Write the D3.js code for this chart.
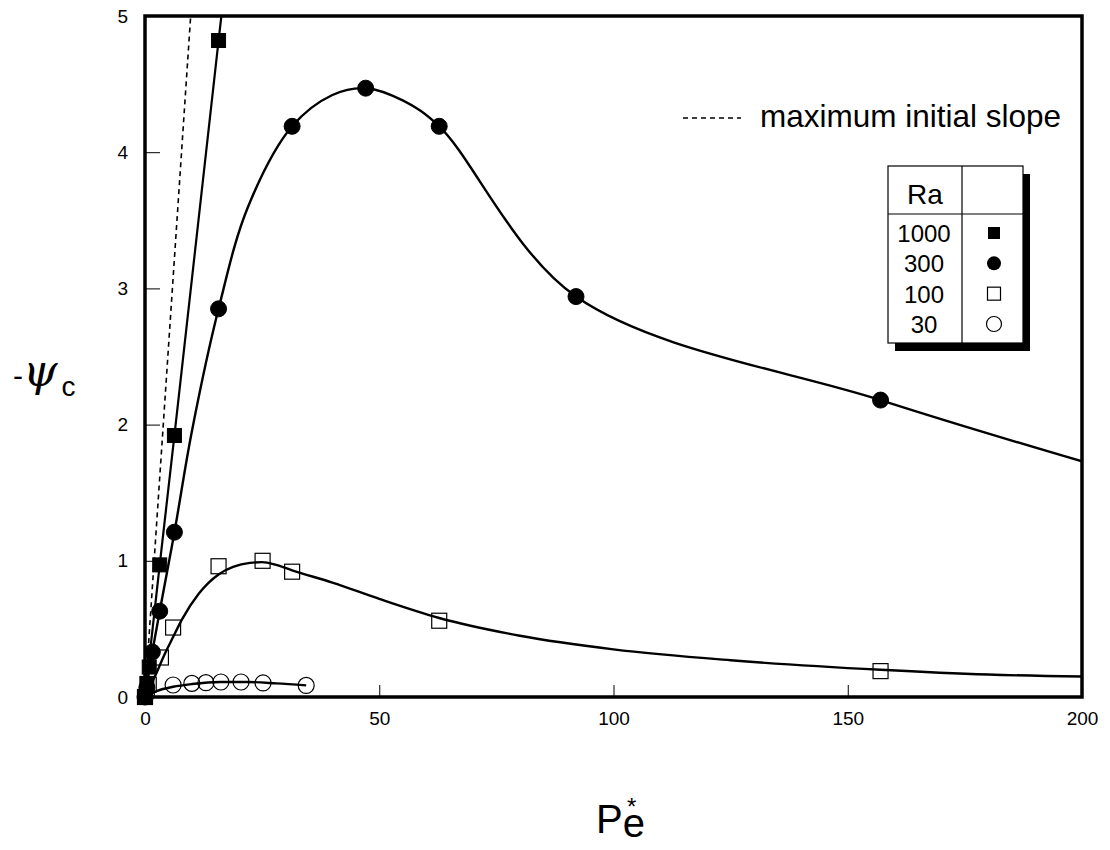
<!DOCTYPE html>
<html>
<head>
<meta charset="utf-8">
<script src="https://cdn.jsdelivr.net/npm/d3@7"></script>
<style>
  body { margin: 0; background: #fff; }
  svg { font-family: "Liberation Sans", Arial, sans-serif; }
</style>
</head>
<body>
<svg></svg>
<script>
const pe1000 = [0, 0.4, 0.9, 3.14, 6.28, 15.7];
const psi1000 = [0, 0.1, 0.22, 0.97, 1.92, 4.82];
const pe300 = [0, 0.4, 1.57, 3.14, 6.28, 15.7, 31.4, 47.1, 62.8, 92, 157];
const psi300 = [0, 0.07, 0.33, 0.63, 1.21, 2.85, 4.19, 4.47, 4.19, 2.94, 2.18];
const pe100 = [0, 0.8, 3.4, 6.0, 15.7, 25.1, 31.4, 62.8, 157];
const psi100 = [0, 0.09, 0.29, 0.51, 0.96, 1.0, 0.92, 0.56, 0.19];
const pe30 = [0.3, 6.0, 10.0, 13.0, 16.2, 20.5, 25.2, 34.4];
const psi30 = [0.02, 0.088, 0.1, 0.105, 0.11, 0.11, 0.103, 0.085];

// fitted curves
const curve1000 = [[0, 0], [3.14, 0.97], [6.28, 1.92], [15.7, 4.82], [16.3, 5.0]];
const curve300 = [[0, 0], [1.57, 0.33], [3.14, 0.63], [6.28, 1.21], [10, 1.95], [15.7, 2.85],
  [22, 3.6], [31.4, 4.19], [40, 4.42], [47.1, 4.47], [55, 4.38], [62.8, 4.19],
  [92, 2.94], [157, 2.18], [200, 1.73]];
const curve100 = [[0, 0], [0.8, 0.06], [2.1, 0.15], [4, 0.3], [6, 0.44], [7.9, 0.57],
  [11.5, 0.76], [15.7, 0.9], [18.8, 0.955], [22.4, 0.985], [25, 0.99], [28, 0.97],
  [31.4, 0.93], [40, 0.84], [50, 0.72], [62.8, 0.58], [80, 0.45], [100, 0.35],
  [125, 0.27], [157, 0.2], [180, 0.165], [200, 0.15]];
const curve30 = [[0, 0], [2.6, 0.045], [6, 0.075], [10, 0.095], [16, 0.11], [22, 0.11],
  [28, 0.1], [34.4, 0.085]];
const slopeLine = [[0, 0], [9.75, 5]];

const legendRa = ["1000", "300", "100", "30"];
const xTicks = [0, 50, 100, 150, 200];
const yTicks = [0, 1, 2, 3, 4, 5];

const width = 1110, height = 850;
const margin = {left: 145, right: 28, top: 16, bottom: 153};

const svg = d3.select("svg")
    .attr("width", width)
    .attr("height", height);

const x = d3.scaleLinear().domain([0, 200]).range([margin.left, width - margin.right]);
const y = d3.scaleLinear().domain([0, 5]).range([height - margin.bottom, margin.top]);

svg.append("defs").append("clipPath").attr("id", "plot")
  .append("rect")
    .attr("x", x(0)).attr("y", y(5))
    .attr("width", x(200) - x(0)).attr("height", y(0) - y(5));

// axes with inward ticks
const gx = svg.append("g").attr("transform", `translate(0,${y(0)})`);
gx.call(d3.axisBottom(x).tickValues(d3.range(0, 201, 25)).tickSize(-6).tickFormat(""));
gx.call(d3.axisBottom(x).tickValues(xTicks).tickSize(-12).tickPadding(15).tickFormat(d3.format("d")));

const gy = svg.append("g").attr("transform", `translate(${x(0)},0)`);
gy.call(d3.axisLeft(y).tickValues(d3.range(0, 5.01, 0.5)).tickSize(-7).tickFormat(""));
gy.call(d3.axisLeft(y).tickValues(yTicks).tickSize(-15).tickPadding(17).tickFormat(d3.format("d")));

svg.selectAll(".domain").remove();
svg.selectAll(".tick line").attr("stroke", "#000").attr("stroke-width", 1);
svg.selectAll(".tick text").attr("font-size", 19).attr("fill", "#000")
    .attr("font-family", "Liberation Sans, Arial, sans-serif");

// frame
svg.append("rect")
    .attr("x", x(0)).attr("y", y(5))
    .attr("width", x(200) - x(0)).attr("height", y(0) - y(5))
    .attr("fill", "none").attr("stroke", "#000").attr("stroke-width", 3.5);

const plot = svg.append("g").attr("clip-path", "url(#plot)");

const smooth = d3.line().x(d => x(d[0])).y(d => y(d[1])).curve(d3.curveMonotoneX);
const spline = d3.line().x(d => x(d[0])).y(d => y(d[1])).curve(d3.curveCatmullRom.alpha(0.5));
const straight = d3.line().x(d => x(d[0])).y(d => y(d[1]));

plot.append("path").attr("d", straight(slopeLine))
    .attr("fill", "none").attr("stroke", "#000").attr("stroke-width", 1.6)
    .attr("stroke-dasharray", "5,4");
plot.append("path").attr("d", straight(curve1000))
    .attr("fill", "none").attr("stroke", "#000").attr("stroke-width", 2.2);
plot.append("path").attr("d", spline(curve300))
    .attr("fill", "none").attr("stroke", "#000").attr("stroke-width", 2.4);
[curve100, curve30].forEach(c => {
  plot.append("path").attr("d", smooth(c))
      .attr("fill", "none").attr("stroke", "#000").attr("stroke-width", 2.4);
});

// markers
function squares(xs, ys, filled, s) {
  svg.append("g").selectAll("rect").data(xs).join("rect")
      .attr("x", d => x(d) - s / 2).attr("y", (d, i) => y(ys[i]) - s / 2)
      .attr("width", s).attr("height", s)
      .attr("fill", filled ? "#000" : "none")
      .attr("stroke", "#000").attr("stroke-width", filled ? 1 : 1.2);
}
function circles(xs, ys, filled, r) {
  svg.append("g").selectAll("circle").data(xs).join("circle")
      .attr("cx", d => x(d)).attr("cy", (d, i) => y(ys[i])).attr("r", r)
      .attr("fill", filled ? "#000" : "none")
      .attr("stroke", "#000").attr("stroke-width", filled ? 1 : 1.2);
}
squares(pe100, psi100, false, 15);
circles(pe30, psi30, false, 8);
circles(pe300, psi300, true, 8);
squares(pe1000, psi1000, true, 14);

// dashed-line key
svg.append("line")
    .attr("x1", 683).attr("x2", 741).attr("y1", 118).attr("y2", 118)
    .attr("stroke", "#000").attr("stroke-width", 1.4).attr("stroke-dasharray", "5,4");
svg.append("text").attr("x", 760).attr("y", 127)
    .attr("font-size", 31.5).text("maximum initial slope");

// Ra table legend
const lg = {x: 888, y: 166, w: 135, h: 177, split: 74, head: 48};
svg.append("rect").attr("x", lg.x + 7).attr("y", lg.y + 8)
    .attr("width", lg.w).attr("height", lg.h).attr("fill", "#000");
svg.append("rect").attr("x", lg.x).attr("y", lg.y)
    .attr("width", lg.w).attr("height", lg.h)
    .attr("fill", "#fff").attr("stroke", "#000").attr("stroke-width", 1.2);
svg.append("line").attr("x1", lg.x + lg.split).attr("x2", lg.x + lg.split)
    .attr("y1", lg.y).attr("y2", lg.y + lg.h).attr("stroke", "#000").attr("stroke-width", 1.2);
svg.append("line").attr("x1", lg.x).attr("x2", lg.x + lg.w)
    .attr("y1", lg.y + lg.head).attr("y2", lg.y + lg.head).attr("stroke", "#000").attr("stroke-width", 1.2);
svg.append("text").attr("x", lg.x + lg.split / 2).attr("y", 204)
    .attr("text-anchor", "middle").attr("font-size", 28).text("Ra");

const rowY = d3.scalePoint().domain(legendRa).range([233, 324]);
svg.append("g").selectAll("text").data(legendRa).join("text")
    .attr("x", lg.x + lg.split / 2 - 1).attr("y", d => rowY(d) + 9)
    .attr("text-anchor", "middle").attr("font-size", 24).text(d => d);

const mx = lg.x + 106;
svg.append("rect").attr("x", mx - 6).attr("y", rowY("1000") - 6).attr("width", 12).attr("height", 12).attr("fill", "#000");
svg.append("circle").attr("cx", mx).attr("cy", rowY("300")).attr("r", 7).attr("fill", "#000");
svg.append("rect").attr("x", mx - 6.5).attr("y", rowY("100") - 6.5).attr("width", 13).attr("height", 13)
    .attr("fill", "none").attr("stroke", "#000").attr("stroke-width", 1.2);
svg.append("circle").attr("cx", mx).attr("cy", rowY("30")).attr("r", 7.5)
    .attr("fill", "none").attr("stroke", "#000").attr("stroke-width", 1.2);

// axis titles
const yl = svg.append("text").attr("x", 13).attr("y", 386);
yl.append("tspan").attr("font-size", 30).text("-");
yl.append("tspan").attr("font-family", "DejaVu Serif, serif").attr("font-style", "italic")
    .attr("font-size", 44).text("ψ");
yl.append("tspan").attr("font-size", 28).attr("dy", 10).attr("dx", 4).text("c");

const xl = svg.append("text").attr("x", 596).attr("y", 833).attr("font-size", 40);
xl.append("tspan").text("P");
xl.append("tspan").attr("dy", 4).text("e");
xl.append("tspan").attr("font-size", 24).attr("dx", -18).attr("dy", -22).text("*");
</script>
</body>
</html>
